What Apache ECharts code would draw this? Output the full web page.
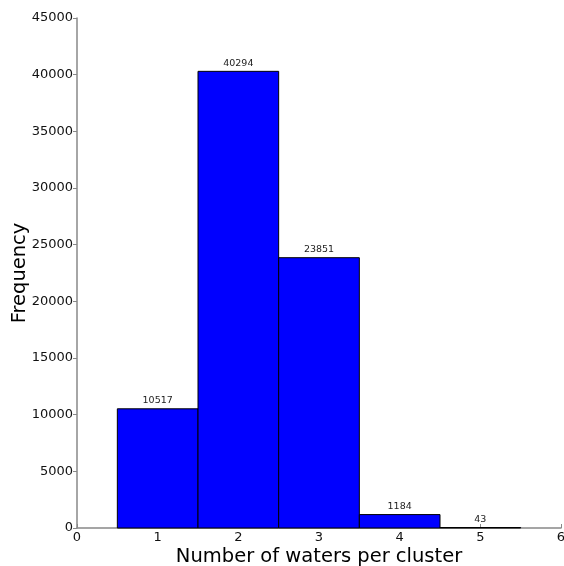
<!DOCTYPE html>
<html>
<head>
<meta charset="utf-8">
<script src="https://cdn.jsdelivr.net/npm/echarts@6/dist/echarts.min.js"></script>
<style>
  html, body { margin: 0; padding: 0; background: #fff; }
  #chart { width: 564px; height: 566px; }
</style>
</head>
<body>
<div id="chart"></div>
<script>
// Histogram of waters per cluster
const clusterSizes = [1, 2, 3, 4, 5];
const frequencies = [10517, 40294, 23851, 1184, 43];
const xTicks = [0, 1, 2, 3, 4, 5, 6];
const yTicks = [0, 5000, 10000, 15000, 20000, 25000, 30000, 35000, 40000, 45000];

const font = 'DejaVu Sans';
const chart = echarts.init(document.getElementById('chart'), null, { renderer: 'canvas' });

chart.setOption({
  animation: false,
  backgroundColor: '#ffffff',
  grid: { left: 77, right: 3, top: 18, bottom: 38, containLabel: false, outerBoundsMode: 'none' },
  xAxis: {
    type: 'value',
    min: xTicks[0],
    max: xTicks[xTicks.length - 1],
    interval: 1,
    name: 'Number of waters per cluster',
    nameLocation: 'middle',
    nameGap: 19,
    nameMoveOverlap: false,
    nameTextStyle: { fontFamily: font, fontSize: 19.5, color: '#000' },
    axisLine: { show: true, lineStyle: { color: '#888888', width: 1.5 } },
    axisTick: { show: true, inside: true, length: 4, lineStyle: { color: '#888888' } },
    axisLabel: { fontFamily: font, fontSize: 13, color: '#111', margin: 3, formatter: v => String(v) },
    splitLine: { show: false }
  },
  yAxis: {
    type: 'value',
    min: yTicks[0],
    max: yTicks[yTicks.length - 1],
    interval: 5000,
    name: 'Frequency',
    nameLocation: 'middle',
    nameGap: 47,
    nameMoveOverlap: false,
    nameTextStyle: { fontFamily: font, fontSize: 19.5, color: '#000' },
    axisLine: { show: true, lineStyle: { color: '#888888', width: 1.5 } },
    axisTick: { show: true, inside: false, length: 4, lineStyle: { color: '#888888' } },
    axisLabel: { fontFamily: font, fontSize: 13, color: '#111', margin: 4, formatter: v => String(v) },
    splitLine: { show: false }
  },
  series: [{
    type: 'custom',
    data: clusterSizes.map((c, i) => [c, frequencies[i]]),
    encode: { x: 0, y: 1 },
    renderItem: function (params, api) {
      const x = api.value(0);
      const y = api.value(1);
      const p0 = api.coord([x - 0.5, 0]);
      const p1 = api.coord([x + 0.5, y]);
      const mid = api.coord([x, y]);
      return {
        type: 'group',
        children: [
          {
            type: 'rect',
            shape: { x: p0[0], y: p1[1], width: p1[0] - p0[0], height: p0[1] - p1[1] },
            style: { fill: '#0000ff', stroke: '#000000', lineWidth: 1 }
          },
          {
            type: 'text',
            x: mid[0],
            y: mid[1] - 3,
            style: {
              text: String(y),
              fill: '#222',
              font: '9.5px "DejaVu Sans"',
              align: 'center',
              verticalAlign: 'bottom'
            }
          }
        ]
      };
    }
  }]
});
</script>
</body>
</html>
